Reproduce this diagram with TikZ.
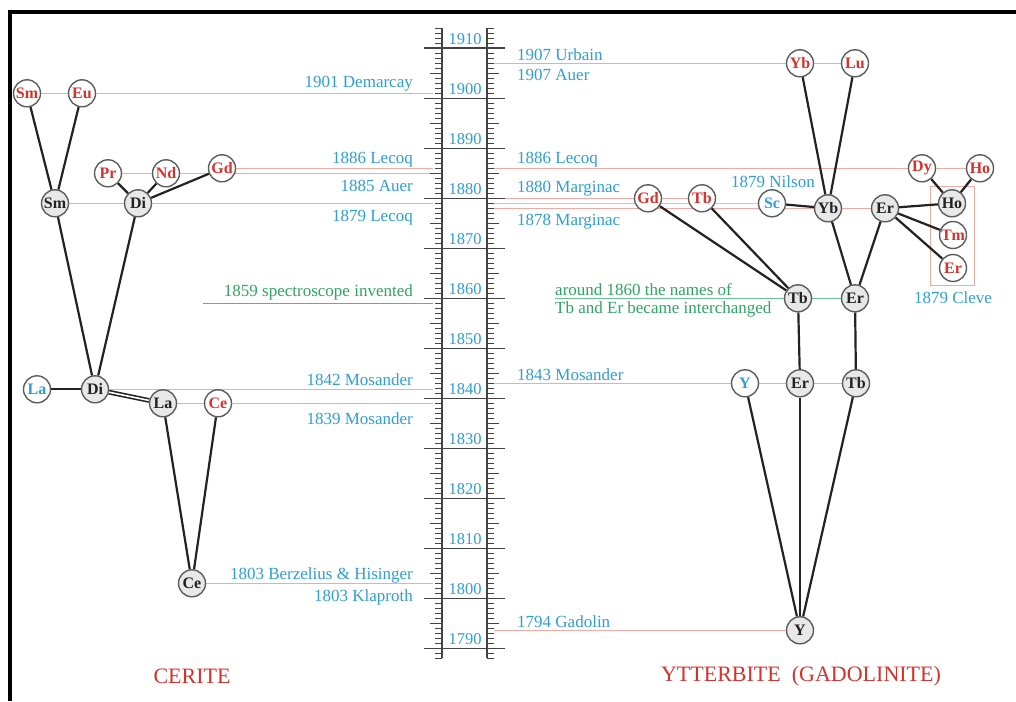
\documentclass[tikz,border=0pt]{standalone}
\usepackage{fontspec}
\setmainfont{Liberation Serif}
\usetikzlibrary{positioning, fit, backgrounds, calc}
\usepackage{xcolor}
\definecolor{chemBlue}  {HTML}{2E9ED6}
\definecolor{chemRed}   {HTML}{D8302B}
\definecolor{chemGreen} {HTML}{2FA463}
\definecolor{chemPink}  {HTML}{F2A9A0}
\definecolor{chemSky}   {HTML}{A6D3EC}
\definecolor{chemGray}  {HTML}{5C5C5C}
\definecolor{chemFill}  {HTML}{E8E8E8}
\definecolor{chemDark}  {HTML}{222222}
\tikzset{
  elem/.style    = {circle, draw=chemGray, line width=1.4pt, minimum size=27pt,
                    inner sep=0pt, font=\fontsize{16}{16}\selectfont\bfseries},
  oldel/.style   = {elem, fill=chemFill, text=chemDark},
  newred/.style  = {elem, fill=white, text=chemRed},
  newblue/.style = {elem, fill=white, text=chemBlue},
  branch/.style  = {line width=2.2pt, draw=chemDark},
  yearline/.style= {line width=1.1pt, draw=chemPink},
  note/.style    = {font=\fontsize{17}{17}\selectfont, text=chemBlue, inner sep=0pt},
  axisyr/.style  = {font=\fontsize{16.5}{16.5}\selectfont, text=chemBlue, inner sep=0pt},
  tick/.style    = {line width=0.9pt, draw=chemDark!85},
  majortick/.style={line width=1.6pt, draw=chemDark!85},
  title/.style   = {font=\fontsize{22}{22}\selectfont, text=chemRed, inner sep=0pt},
}

\begin{document}
\begin{tikzpicture}[x=1pt, y=-1pt, declare function={yr(\t)=98.3+(1900-\t)*5;}]
  \useasboundingbox (0,0) rectangle (1016,701);
  \draw[line width=4pt] (10,701) -- (10,12) -- (1016,12);

  % time axis
  \draw[tick, line width=1.3pt] (442,{yr(1914)}) -- (442,{yr(1788)});
  \draw[tick, line width=1.3pt] (487,{yr(1914)}) -- (487,{yr(1788)});
  \foreach \t in {1788,...,1914}{
    \draw[tick] (435,{yr(\t)}) -- (442,{yr(\t)}) (487,{yr(\t)}) -- (494,{yr(\t)});
  }
  \foreach \t in {1790,1795,...,1910}{
    \draw[tick] (430,{yr(\t)}) -- (442,{yr(\t)}) (487,{yr(\t)}) -- (499,{yr(\t)});
  }
  \foreach \t in {1790,1800,...,1910}{
    \draw[majortick] (424,{yr(\t)}) -- (505,{yr(\t)});
    \node[axisyr] (yr\t) at (465,{yr(\t)-9}) {\t};
  }
  \coordinate (axL) at (433,0);
  \coordinate (axR) at (494,0);

  % cerite
  \node[newred]  (SmT) at (27,{yr(1901)})  {Sm};
  \node[newred]  (EuT) at (82,{yr(1901)})  {Eu};
  \node[newred]  (PrL) at (108,{yr(1885)}) {Pr};
  \node[newred]  (NdL) at (166,{yr(1885)}) {Nd};
  \node[newred]  (GdL) at (222,{yr(1886)}) {Gd};
  \node[oldel]   (SmM) at (55,{yr(1879)})  {Sm};
  \node[oldel]   (DiM) at (138,{yr(1879)}) {Di};
  \node[newblue] (LaB) at (37,{yr(1842)+1})  {La};
  \node[oldel]   (DiL) at (95,{yr(1842)+1})  {Di};
  \node[oldel]   (LaL) at (163,{yr(1839)}) {La};
  \node[newred]  (CeR) at (218,{yr(1839)}) {Ce};
  \node[oldel]   (CeL) at (192,{yr(1803)}) {Ce};
  \coordinate (spL) at (203,{yr(1859)});

  % ytterbite
  \node[newred]  (YbT) at (800,{yr(1907)}) {Yb};
  \node[newred]  (LuT) at (855,{yr(1907)}) {Lu};
  \node[newred]  (DyR) at (922,{yr(1886)}) {Dy};
  \node[newred]  (HoR) at (980,{yr(1886)}) {Ho};
  \node[newred]  (GdR) at (648,{yr(1880)}) {Gd};
  \node[newred]  (TbR) at (702,{yr(1880)}) {Tb};
  \node[newblue] (ScR) at (772,{yr(1879)}) {Sc};
  \node[oldel]   (YbM) at (828,{yr(1878)}) {Yb};
  \node[oldel]   (ErM) at (885,{yr(1878)}) {Er};
  \node[oldel]   (HoM) at (952,{yr(1879)}) {Ho};
  \node[newred]  (TmR) at (953,235) {Tm};
  \node[newred]  (ErR) at (953,268) {Er};
  \node[oldel]   (TbM) at (798,{yr(1860)}) {Tb};
  \node[oldel]   (ErN) at (855,{yr(1860)}) {Er};
  \node[newblue] (YB)  at (745,{yr(1843)}) {Y};
  \node[oldel]   (ErL) at (800,{yr(1843)}) {Er};
  \node[oldel]   (TbL) at (856,{yr(1843)}) {Tb};
  \node[oldel]   (YL)  at (800,{yr(1794)+2}) {Y};
  \coordinate (gnR) at (555,{yr(1860)});

  \begin{scope}[on background layer]
    \fill[white] (0,0) rectangle (1016,701);
    \draw[yearline] (SmT) -- (SmT -| axL);
    \draw[yearline] (PrL) -- (PrL -| axL);
    \draw[yearline] (GdL) -- (GdL -| axL);
    \draw[yearline] (SmM) -- (SmM -| axL);
    \draw[yearline] (DiL) -- (DiL -| axL);
    \draw[yearline] (LaL) -- (LaL -| axL);
    \draw[yearline] (CeL) -- (CeL -| axL);
    \draw[yearline, draw=chemGreen!80] (spL) -- (spL -| axL);
    \draw[yearline] (LuT -| axR) -- (LuT);
    \draw[yearline] (HoR -| axR) -- (HoR);
    \draw[yearline] (TbR -| axR) -- (TbR);
    \draw[yearline, draw=chemSky] (ScR -| axR) -- (ScR);
    \draw[yearline] (ErM -| axR) -- (ErM);
    \draw[yearline, draw=chemGreen!70] (gnR) -- (ErN);
    \draw[yearline] (TbL -| axR) -- (TbL);
    \draw[yearline] (YL -| axR) -- (YL);
  \end{scope}
  \node[draw=chemPink, line width=1pt, inner xsep=7pt, inner ysep=3pt,
        fit=(HoM)(TmR)(ErR)] (cleve) {};

  \draw[branch] (SmT) -- (SmM);
  \draw[branch] (EuT) -- (SmM);
  \draw[branch] (PrL) -- (DiM);
  \draw[branch] (NdL) -- (DiM);
  \draw[branch] (GdL) -- (DiM);
  \draw[branch] (SmM) -- (DiL);
  \draw[branch] (DiM) -- (DiL);
  \draw[branch] (LaB) -- (DiL);
  \draw[branch, line width=1.6pt, double=white, double distance=1.6pt] (DiL) -- (LaL);
  \draw[branch] (LaL) -- (CeL);
  \draw[branch] (CeR) -- (CeL);

  \draw[branch] (YbT) -- (YbM);
  \draw[branch] (LuT) -- (YbM);
  \draw[branch] (DyR) -- (HoM);
  \draw[branch] (HoR) -- (HoM);
  \draw[branch] (ScR) -- (YbM);
  \draw[branch] (ErM) -- (HoM);
  \draw[branch] (ErM) -- (TmR);
  \draw[branch] (ErM) -- (ErR);
  \draw[branch] (YbM) -- (ErN);
  \draw[branch] (ErM) -- (ErN);
  \draw[branch] (GdR) -- (TbM);
  \draw[branch] (TbR) -- (TbM);
  \draw[branch] (TbM) -- (ErL);
  \draw[branch] (ErN) -- (TbL);
  \draw[branch] (YB) -- (YL);
  \draw[branch] (ErL) -- (YL);
  \draw[branch] (TbL) -- (YL);

  % discoveries
  \node[note, anchor=east] (tDem)  at (413,84)  {1901 Demarcay};
  \node[note, anchor=east] (tLecL) at (413,160) {1886 Lecoq};
  \node[note, anchor=east] (tAuL)  at (413,186) {1885 Auer};
  \node[note, anchor=east] (tLec2) at (413,218) {1879 Lecoq};
  \node[note, anchor=east, text=chemGreen] (tSpec) at (413,292) {1859 spectroscope invented};
  \node[note, anchor=east] (tMos2) at (413,380) {1842 Mosander};
  \node[note, anchor=east] (tMos9) at (413,419) {1839 Mosander};
  \node[note, anchor=east] (tBerz) at (413,575) {1803 Berzelius \& Hisinger};
  \node[note, anchor=east] (tKlap) at (413,597) {1803 Klaproth};

  \node[note, anchor=west] (tUrb)  at (517,55)  {1907 Urbain};
  \node[note, anchor=west] (tAuR)  at (517,75)  {1907 Auer};
  \node[note, anchor=west] (tLecR) at (517,160) {1886 Lecoq};
  \node[note, anchor=west] (tMar0) at (517,189) {1880 Marginac};
  \node[note, anchor=west] (tMar8) at (517,222) {1878 Marginac};
  \node[note, anchor=east] (tNil)  at (815,182) {1879 Nilson};
  \node[note, anchor=west, text=chemGreen] (tArnd) at (555,290) {around 1860 the names of};
  \node[note, anchor=west, text=chemGreen] (tSwap) at (555,309) {Tb and Er became interchanged};
  \node[note] (tCle) at (953,298) {1879 Cleve};
  \node[note, anchor=west] (tMos3) at (517,375) {1843 Mosander};
  \node[note, anchor=west] (tGad)  at (517,622) {1794 Gadolin};

  \node[title] (cerite) at (192,676) {CERITE};
  \node[title] (ytter)  at (801,676) {YTTERBITE\ \ (GADOLINITE)};
\end{tikzpicture}
\end{document}
